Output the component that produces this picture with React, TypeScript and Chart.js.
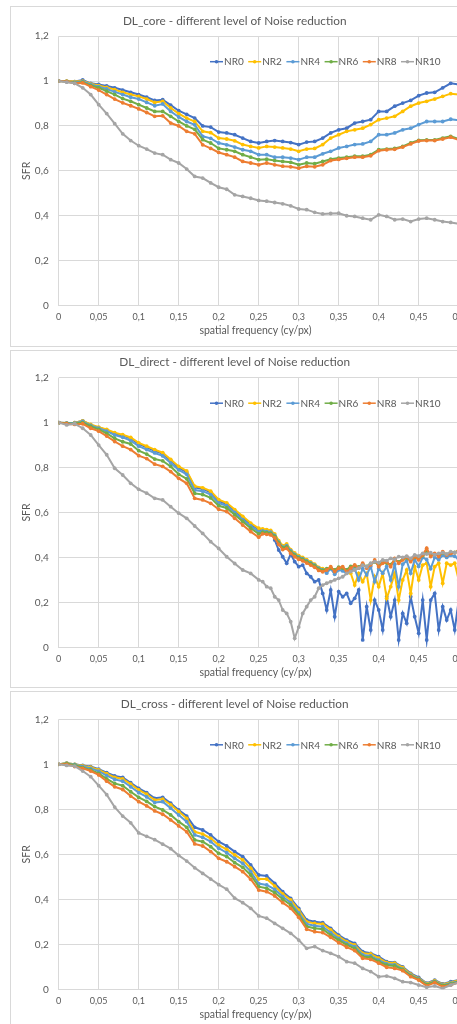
import React, { useEffect, useRef } from 'react';
import { Chart, registerables } from 'chart.js';

Chart.register(...registerables);

const SERIES_NAMES = ['NR0', 'NR2', 'NR4', 'NR6', 'NR8', 'NR10'];
const SERIES_COLORS = ['#4472C4', '#FFC000', '#5B9BD5', '#70AD47', '#ED7D31', '#A5A5A5'];
const X_TICK_LABELS = ['0', '0,05', '0,1', '0,15', '0,2', '0,25', '0,3', '0,35', '0,4', '0,45', '0,5'];
const Y_TICK_LABELS = ['0', '0,2', '0,4', '0,6', '0,8', '1', '1,2'];
const X_TITLE = 'spatial frequency (cy/px)';
const Y_TITLE = 'SFR';

// spatial frequency (cy/px) for the core and cross panels
const FREQ_A = [
  0, 0.01, 0.02, 0.03, 0.04, 0.05, 0.06, 0.07, 0.08, 0.09,
  0.1, 0.11, 0.12, 0.13, 0.14, 0.15, 0.16, 0.17, 0.18, 0.19,
  0.2, 0.21, 0.22, 0.23, 0.24, 0.25, 0.26, 0.27, 0.28, 0.29,
  0.3, 0.31, 0.32, 0.33, 0.34, 0.35, 0.36, 0.37, 0.38, 0.39,
  0.4, 0.41, 0.42, 0.43, 0.44, 0.45, 0.46, 0.47, 0.48, 0.49, 0.5,
];

// spatial frequency (cy/px) for the direct panel (finer in the noisy part)
const FREQ_B = [
  0, 0.01, 0.02, 0.03, 0.04, 0.05, 0.06, 0.07, 0.08, 0.09,
  0.1, 0.11, 0.12, 0.13, 0.14, 0.15, 0.16, 0.17, 0.18, 0.19,
  0.2, 0.21, 0.22, 0.23, 0.24, 0.25,
  0.255, 0.26, 0.265, 0.27, 0.275, 0.28, 0.285, 0.29, 0.295, 0.3,
  0.305, 0.31, 0.315, 0.32, 0.325, 0.33, 0.335, 0.34, 0.345, 0.35,
  0.355, 0.36, 0.365, 0.37, 0.375, 0.38, 0.385, 0.39, 0.395, 0.4,
  0.405, 0.41, 0.415, 0.42, 0.425, 0.43, 0.435, 0.44, 0.445, 0.45,
  0.455, 0.46, 0.465, 0.47, 0.475, 0.48, 0.485, 0.49, 0.495, 0.5,
];

// ---- DL_core ----
const CORE_NR0 = [1.0, 1.0, 0.998, 1.005, 0.99, 0.985, 0.978, 0.97, 0.96, 0.95, 0.94, 0.928, 0.914, 0.917, 0.893, 0.868, 0.852, 0.835, 0.8, 0.795, 0.773, 0.769, 0.761, 0.746, 0.731, 0.724, 0.731, 0.735, 0.731, 0.726, 0.717, 0.728, 0.731, 0.746, 0.769, 0.783, 0.79, 0.813, 0.82, 0.828, 0.865, 0.865, 0.888, 0.902, 0.914, 0.935, 0.947, 0.95, 0.97, 0.99, 0.985];
const CORE_NR2 = [1.0, 1.0, 0.998, 1.0, 0.988, 0.98, 0.972, 0.962, 0.95, 0.94, 0.932, 0.92, 0.905, 0.91, 0.88, 0.855, 0.835, 0.82, 0.776, 0.77, 0.746, 0.742, 0.734, 0.717, 0.709, 0.702, 0.709, 0.706, 0.702, 0.697, 0.687, 0.697, 0.7, 0.717, 0.746, 0.761, 0.776, 0.783, 0.79, 0.806, 0.828, 0.835, 0.843, 0.865, 0.888, 0.902, 0.91, 0.92, 0.932, 0.944, 0.94];
const CORE_NR4 = [1.0, 0.998, 0.995, 0.998, 0.985, 0.975, 0.965, 0.952, 0.94, 0.928, 0.92, 0.905, 0.89, 0.898, 0.865, 0.84, 0.82, 0.805, 0.754, 0.745, 0.724, 0.716, 0.706, 0.694, 0.687, 0.672, 0.672, 0.661, 0.661, 0.657, 0.65, 0.661, 0.661, 0.676, 0.687, 0.702, 0.709, 0.717, 0.72, 0.731, 0.761, 0.761, 0.769, 0.783, 0.79, 0.806, 0.82, 0.82, 0.82, 0.83, 0.825];
const CORE_NR6 = [1.0, 0.998, 0.992, 0.995, 0.98, 0.97, 0.955, 0.94, 0.922, 0.91, 0.895, 0.88, 0.865, 0.865, 0.843, 0.82, 0.8, 0.785, 0.739, 0.724, 0.7, 0.694, 0.687, 0.672, 0.661, 0.65, 0.652, 0.646, 0.642, 0.638, 0.627, 0.635, 0.632, 0.642, 0.652, 0.657, 0.661, 0.665, 0.665, 0.672, 0.694, 0.697, 0.7, 0.709, 0.724, 0.736, 0.738, 0.738, 0.746, 0.754, 0.742];
const CORE_NR8 = [1.0, 0.998, 0.99, 0.992, 0.975, 0.96, 0.94, 0.92, 0.903, 0.89, 0.876, 0.86, 0.843, 0.845, 0.813, 0.8, 0.776, 0.765, 0.716, 0.7, 0.682, 0.672, 0.661, 0.642, 0.635, 0.627, 0.635, 0.627, 0.621, 0.618, 0.612, 0.62, 0.618, 0.627, 0.646, 0.651, 0.656, 0.661, 0.661, 0.667, 0.69, 0.694, 0.696, 0.706, 0.72, 0.733, 0.735, 0.735, 0.742, 0.75, 0.738];
const CORE_NR10 = [1.0, 0.995, 0.99, 0.97, 0.94, 0.895, 0.855, 0.81, 0.765, 0.735, 0.712, 0.697, 0.679, 0.672, 0.65, 0.635, 0.608, 0.575, 0.568, 0.546, 0.527, 0.518, 0.493, 0.486, 0.478, 0.468, 0.465, 0.459, 0.453, 0.444, 0.43, 0.427, 0.415, 0.408, 0.41, 0.411, 0.4, 0.397, 0.389, 0.382, 0.404, 0.397, 0.382, 0.385, 0.374, 0.385, 0.389, 0.382, 0.374, 0.37, 0.364];

// ---- DL_direct ----
const DIRECT_NR0 = [
  1.0, 0.998, 1.0, 1.008, 0.99, 0.978, 0.968, 0.952, 0.942, 0.93,
  0.905, 0.89, 0.875, 0.862, 0.832, 0.8, 0.78, 0.712, 0.705, 0.69,
  0.652, 0.638, 0.608, 0.578, 0.548, 0.525,
  0.519, 0.507, 0.515, 0.478, 0.433, 0.403, 0.374, 0.415, 0.381, 0.359,
  0.366, 0.329, 0.314, 0.292, 0.3, 0.24, 0.166, 0.255, 0.136, 0.248,
  0.225, 0.24, 0.196, 0.218, 0.255, 0.033, 0.181, 0.077, 0.21, 0.166,
  0.077, 0.225, 0.136, 0.21, 0.033, 0.151, 0.107, 0.225, 0.136, 0.062,
  0.21, 0.033, 0.21, 0.24, 0.077, 0.181, 0.121, 0.166, 0.077, 0.21,
];
const DIRECT_NR2 = [
  1.0, 0.998, 1.0, 1.008, 0.992, 0.98, 0.97, 0.955, 0.946, 0.934,
  0.91, 0.895, 0.88, 0.866, 0.836, 0.805, 0.785, 0.717, 0.71, 0.695,
  0.657, 0.643, 0.613, 0.583, 0.553, 0.53,
  0.527, 0.524, 0.52, 0.505, 0.475, 0.453, 0.46, 0.435, 0.42, 0.408,
  0.4, 0.39, 0.38, 0.37, 0.356, 0.35, 0.345, 0.355, 0.34, 0.35,
  0.345, 0.34, 0.33, 0.277, 0.329, 0.292, 0.329, 0.21, 0.314, 0.27,
  0.329, 0.218, 0.27, 0.329, 0.21, 0.3, 0.344, 0.24, 0.359, 0.3,
  0.366, 0.374, 0.27, 0.359, 0.374, 0.285, 0.374, 0.366, 0.374, 0.3,
];
const DIRECT_NR4 = [
  1.0, 0.998, 0.998, 1.005, 0.988, 0.975, 0.962, 0.945, 0.935, 0.92,
  0.895, 0.88, 0.865, 0.852, 0.82, 0.79, 0.77, 0.7, 0.695, 0.68,
  0.642, 0.63, 0.6, 0.568, 0.54, 0.515,
  0.518, 0.515, 0.512, 0.498, 0.468, 0.446, 0.452, 0.43, 0.414, 0.402,
  0.395, 0.385, 0.376, 0.366, 0.352, 0.345, 0.33, 0.35, 0.325, 0.345,
  0.34, 0.33, 0.345, 0.35, 0.3, 0.35, 0.322, 0.36, 0.292, 0.35,
  0.33, 0.36, 0.3, 0.37, 0.27, 0.37, 0.385, 0.33, 0.39, 0.36,
  0.4, 0.39, 0.35, 0.4, 0.39, 0.41, 0.4, 0.41, 0.405, 0.39,
];
const DIRECT_NR6 = [
  1.0, 0.997, 0.996, 1.0, 0.983, 0.97, 0.952, 0.93, 0.915, 0.905,
  0.875, 0.86, 0.838, 0.83, 0.805, 0.77, 0.75, 0.685, 0.68, 0.665,
  0.63, 0.62, 0.59, 0.56, 0.53, 0.505,
  0.512, 0.51, 0.507, 0.494, 0.465, 0.442, 0.447, 0.425, 0.41, 0.398,
  0.391, 0.381, 0.372, 0.362, 0.348, 0.342, 0.35, 0.352, 0.345, 0.357,
  0.352, 0.345, 0.36, 0.362, 0.358, 0.368, 0.36, 0.372, 0.38, 0.366,
  0.378, 0.375, 0.368, 0.39, 0.38, 0.392, 0.398, 0.388, 0.4, 0.395,
  0.408, 0.425, 0.41, 0.415, 0.41, 0.42, 0.414, 0.42, 0.422, 0.43,
];
const DIRECT_NR8 = [
  1.0, 0.995, 0.992, 0.995, 0.975, 0.962, 0.94, 0.916, 0.895, 0.88,
  0.853, 0.84, 0.815, 0.805, 0.782, 0.752, 0.73, 0.663, 0.656, 0.641,
  0.614, 0.604, 0.574, 0.544, 0.515, 0.49,
  0.505, 0.503, 0.5, 0.487, 0.458, 0.435, 0.44, 0.418, 0.403, 0.392,
  0.385, 0.375, 0.366, 0.356, 0.342, 0.336, 0.344, 0.359, 0.337, 0.352,
  0.359, 0.337, 0.352, 0.367, 0.352, 0.374, 0.352, 0.367, 0.389, 0.359,
  0.374, 0.381, 0.359, 0.396, 0.374, 0.389, 0.404, 0.381, 0.404, 0.389,
  0.411, 0.441, 0.404, 0.418, 0.404, 0.426, 0.411, 0.418, 0.421, 0.433,
];
const DIRECT_NR10 = [
  1.0, 0.99, 0.995, 0.975, 0.945, 0.9, 0.857, 0.797, 0.767, 0.73,
  0.703, 0.686, 0.663, 0.656, 0.626, 0.597, 0.574, 0.54, 0.507, 0.47,
  0.44, 0.403, 0.373, 0.344, 0.329, 0.3,
  0.292, 0.27, 0.263, 0.225, 0.21, 0.166, 0.151, 0.114, 0.04, 0.09,
  0.151, 0.181, 0.21, 0.225, 0.263, 0.277, 0.285, 0.292, 0.3, 0.307,
  0.314, 0.329, 0.337, 0.344, 0.352, 0.366, 0.359, 0.374, 0.381, 0.377,
  0.389, 0.386, 0.396, 0.392, 0.404, 0.4, 0.406, 0.396, 0.411, 0.406,
  0.418, 0.415, 0.421, 0.411, 0.418, 0.421, 0.415, 0.426, 0.421, 0.426,
];

// ---- DL_cross ----
const CROSS_NR0 = [1.0, 1.005, 1.0, 0.995, 0.99, 0.978, 0.963, 0.948, 0.942, 0.918, 0.893, 0.874, 0.849, 0.853, 0.827, 0.797, 0.77, 0.72, 0.708, 0.686, 0.656, 0.637, 0.612, 0.59, 0.553, 0.508, 0.504, 0.471, 0.434, 0.404, 0.36, 0.308, 0.3, 0.296, 0.271, 0.241, 0.219, 0.204, 0.167, 0.16, 0.145, 0.123, 0.119, 0.1, 0.071, 0.053, 0.027, 0.041, 0.024, 0.034, 0.041];
const CROSS_NR2 = [1.0, 1.005, 1.0, 0.993, 0.987, 0.975, 0.958, 0.942, 0.935, 0.912, 0.886, 0.867, 0.841, 0.845, 0.82, 0.79, 0.76, 0.7, 0.69, 0.671, 0.641, 0.622, 0.597, 0.575, 0.538, 0.49, 0.49, 0.459, 0.424, 0.397, 0.352, 0.3, 0.293, 0.29, 0.264, 0.234, 0.212, 0.197, 0.16, 0.157, 0.138, 0.119, 0.116, 0.096, 0.067, 0.049, 0.025, 0.038, 0.022, 0.03, 0.04];
const CROSS_NR4 = [1.0, 1.004, 0.998, 0.99, 0.982, 0.97, 0.95, 0.933, 0.925, 0.9, 0.874, 0.855, 0.83, 0.834, 0.805, 0.775, 0.745, 0.686, 0.675, 0.656, 0.627, 0.607, 0.582, 0.56, 0.523, 0.47, 0.464, 0.444, 0.412, 0.385, 0.34, 0.29, 0.282, 0.278, 0.252, 0.226, 0.204, 0.19, 0.153, 0.148, 0.13, 0.113, 0.109, 0.09, 0.063, 0.046, 0.022, 0.035, 0.018, 0.027, 0.036];
const CROSS_NR6 = [1.0, 1.003, 0.996, 0.985, 0.975, 0.96, 0.935, 0.915, 0.905, 0.878, 0.853, 0.835, 0.812, 0.797, 0.775, 0.745, 0.72, 0.664, 0.656, 0.634, 0.604, 0.59, 0.563, 0.542, 0.508, 0.456, 0.449, 0.43, 0.4, 0.375, 0.33, 0.279, 0.271, 0.267, 0.241, 0.219, 0.197, 0.182, 0.145, 0.142, 0.123, 0.107, 0.104, 0.087, 0.06, 0.044, 0.02, 0.033, 0.016, 0.024, 0.034];
const CROSS_NR8 = [1.0, 1.0, 0.99, 0.982, 0.97, 0.953, 0.925, 0.9, 0.888, 0.859, 0.834, 0.815, 0.793, 0.778, 0.753, 0.726, 0.7, 0.646, 0.637, 0.612, 0.582, 0.567, 0.545, 0.523, 0.489, 0.441, 0.434, 0.415, 0.385, 0.36, 0.32, 0.267, 0.256, 0.252, 0.231, 0.207, 0.187, 0.172, 0.138, 0.133, 0.116, 0.098, 0.093, 0.083, 0.056, 0.041, 0.015, 0.03, 0.012, 0.019, 0.03];
const CROSS_NR10 = [1.0, 0.995, 0.992, 0.97, 0.945, 0.905, 0.865, 0.81, 0.77, 0.74, 0.695, 0.68, 0.665, 0.645, 0.625, 0.595, 0.57, 0.54, 0.515, 0.49, 0.465, 0.445, 0.405, 0.385, 0.36, 0.326, 0.316, 0.293, 0.271, 0.249, 0.219, 0.182, 0.19, 0.172, 0.16, 0.145, 0.123, 0.116, 0.093, 0.079, 0.056, 0.059, 0.049, 0.034, 0.03, 0.019, 0.009, 0.015, 0.004, 0.019, 0.03];

const FONT = 'Lato, "Open Sans", sans-serif';
const TEXT_COLOR = '#595959';
const GRID_COLOR = '#d9d9d9';

const PANELS = [
  { title: 'DL_core - different level of Noise reduction', x: FREQ_A, series: [CORE_NR0, CORE_NR2, CORE_NR4, CORE_NR6, CORE_NR8, CORE_NR10], top: 6, height: 341, padTop: 29.2, axisH: 40.5 },
  { title: 'DL_direct - different level of Noise reduction', x: FREQ_B, series: [DIRECT_NR0, DIRECT_NR2, DIRECT_NR4, DIRECT_NR6, DIRECT_NR8, DIRECT_NR10], top: 350, height: 338, padTop: 26.7, axisH: 39.7 },
  { title: 'DL_cross - different level of Noise reduction', x: FREQ_A, series: [CROSS_NR0, CROSS_NR2, CROSS_NR4, CROSS_NR6, CROSS_NR8, CROSS_NR10], top: 691, height: 338, padTop: 27.3, axisH: 38.7 },
];

const CANVAS_W = 468;

const decorPlugin = {
  id: 'decor',
  afterDraw(chart: any, _args: any, opts: any) {
    const { ctx, chartArea: ca } = chart;
    ctx.save();
    ctx.fillStyle = TEXT_COLOR;
    ctx.textBaseline = 'middle';
    // title
    ctx.textAlign = 'center';
    ctx.font = `11.8px ${FONT}`;
    ctx.fillText(opts.title, 223.7, ca.top - 15.5);
    // x title
    ctx.font = `10.5px ${FONT}`;
    ctx.fillText(X_TITLE, 244.5, ca.bottom + 25.5);
    // y title
    ctx.save();
    ctx.translate(16, (ca.top + ca.bottom) / 2);
    ctx.rotate(-Math.PI / 2);
    ctx.fillText(Y_TITLE, 0, 0);
    ctx.restore();
    // legend
    ctx.font = `10px ${FONT}`;
    ctx.textAlign = 'left';
    const ly = ca.top + 25.5;
    chart.data.datasets.forEach((ds: any, i: number) => {
      const lx = 199 + i * 38.2;
      ctx.strokeStyle = ds.borderColor;
      ctx.lineWidth = 1.5;
      ctx.beginPath();
      ctx.moveTo(lx, ly);
      ctx.lineTo(lx + 13, ly);
      ctx.stroke();
      ctx.fillStyle = ds.borderColor;
      ctx.beginPath();
      ctx.arc(lx + 6.5, ly, 1.8, 0, Math.PI * 2);
      ctx.fill();
      ctx.fillStyle = TEXT_COLOR;
      ctx.fillText(ds.label, lx + 14, ly + 0.5);
    });
    ctx.restore();
  },
};

function SfrPanel({ cfg }: { cfg: any }) {
  const ref = useRef<HTMLCanvasElement | null>(null);
  const innerH = cfg.height - 2;
  useEffect(() => {
    if (!ref.current) return;
    const datasets = cfg.series.map((ys: number[], i: number) => ({
      label: SERIES_NAMES[i],
      data: cfg.x.map((x: number, j: number) => ({ x, y: ys[j] })),
      borderColor: SERIES_COLORS[i],
      backgroundColor: SERIES_COLORS[i],
      pointBackgroundColor: SERIES_COLORS[i],
      pointBorderWidth: 0,
      pointRadius: 1.9,
      borderWidth: 2,
      tension: 0,
      order: 5 - i,
    }));
    const chart = new Chart(ref.current, {
      type: 'line',
      data: { datasets },
      plugins: [decorPlugin],
      options: {
        animation: false,
        responsive: false,
        devicePixelRatio: 1,
        layout: { padding: { left: 0, right: CANVAS_W - 447.7, top: cfg.padTop, bottom: 0 } },
        plugins: {
          legend: { display: false },
          title: { display: false },
          tooltip: { enabled: false },
          decor: { title: cfg.title },
        } as any,
        scales: {
          x: {
            type: 'linear',
            min: 0,
            max: 0.5,
            afterFit: (s: any) => { s.height = cfg.axisH; },
            grid: { color: GRID_COLOR, lineWidth: 1, drawTicks: false },
            border: { display: true, color: GRID_COLOR },
            ticks: {
              stepSize: 0.05,
              autoSkip: false,
              maxRotation: 0,
              padding: 6,
              color: TEXT_COLOR,
              font: { family: FONT, size: 9 },
              callback: (_v: any, idx: number) => X_TICK_LABELS[idx],
            },
          },
          y: {
            type: 'linear',
            min: 0,
            max: 1.2,
            afterFit: (s: any) => { s.width = 47.7; },
            grid: { color: GRID_COLOR, lineWidth: 1, drawTicks: false },
            border: { display: false },
            ticks: {
              stepSize: 0.2,
              padding: 10,
              color: TEXT_COLOR,
              font: { family: FONT, size: 10 },
              callback: (_v: any, idx: number) => Y_TICK_LABELS[idx],
            },
          },
        },
      } as any,
    });
    return () => chart.destroy();
  }, []);
  return (
    <div
      style={{
        position: 'absolute',
        left: 10,
        top: cfg.top,
        width: CANVAS_W + 2,
        height: cfg.height,
        border: `1px solid ${GRID_COLOR}`,
        boxSizing: 'border-box',
        background: '#fff',
      }}
    >
      <canvas ref={ref} width={CANVAS_W} height={innerH} style={{ display: 'block', width: CANVAS_W, height: innerH }} />
    </div>
  );
}

export default function App() {
  return (
    <div style={{ position: 'absolute', left: 0, top: 0, width: 457, height: 1024, overflow: 'hidden', background: '#fff' }}>
      {PANELS.map((p, i) => (
        <SfrPanel key={i} cfg={p} />
      ))}
    </div>
  );
}
